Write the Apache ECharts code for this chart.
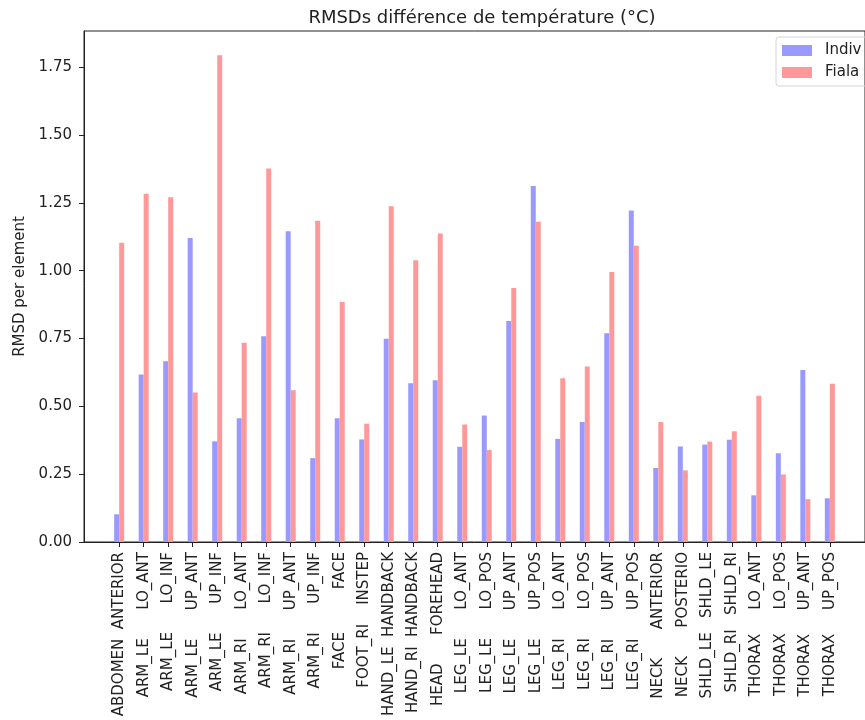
<!DOCTYPE html>
<html>
<head>
<meta charset="utf-8">
<title>RMSDs</title>
<script src="https://cdn.jsdelivr.net/npm/echarts@6/dist/echarts.min.js"></script>
<style>
    html, body { margin: 0; padding: 0; background: #fff; }
    #rmsdChart { width: 865px; height: 720px; }
</style>
</head>
<body>
<div id="rmsdChart"></div>
<script>
// noms des elements (mot1 cadre a gauche, mot2 cadre a droite)
var elementNames = [
    "ABDOMEN  ANTERIOR", "ARM_LE      LO_ANT", "ARM_LE      LO_INF", "ARM_LE      UP_ANT",
    "ARM_LE      UP_INF", "ARM_RI      LO_ANT", "ARM_RI      LO_INF", "ARM_RI      UP_ANT",
    "ARM_RI      UP_INF", "FACE         FACE", "FOOT_RI    INSTEP", "HAND_LE  HANDBACK",
    "HAND_RI  HANDBACK", "HEAD      FOREHEAD", "LEG_LE      LO_ANT", "LEG_LE      LO_POS",
    "LEG_LE      UP_ANT", "LEG_LE      UP_POS", "LEG_RI      LO_ANT", "LEG_RI      LO_POS",
    "LEG_RI      UP_ANT", "LEG_RI      UP_POS", "NECK      ANTERIOR", "NECK      POSTERIO",
    "SHLD_LE   SHLD_LE", "SHLD_RI   SHLD_RI", "THORAX     LO_ANT", "THORAX     LO_POS",
    "THORAX     UP_ANT", "THORAX     UP_POS"
];
var indivValues = [
    0.102, 0.617, 0.666, 1.120, 0.371, 0.456, 0.758, 1.145, 0.309, 0.456,
    0.378, 0.749, 0.585, 0.596, 0.351, 0.466, 0.814, 1.312, 0.380, 0.442,
    0.769, 1.222, 0.273, 0.352, 0.359, 0.377, 0.172, 0.327, 0.634, 0.161
];
var fialaValues = [
    1.103, 1.283, 1.270, 0.551, 1.794, 0.734, 1.376, 0.559, 1.184, 0.884,
    0.436, 1.237, 1.038, 1.137, 0.433, 0.339, 0.936, 1.180, 0.603, 0.647,
    0.995, 1.092, 0.442, 0.264, 0.370, 0.408, 0.539, 0.249, 0.158, 0.583
];
var yTickValues = [0, 0.25, 0.5, 0.75, 1.0, 1.25, 1.5, 1.75];

var chartTitle = "RMSDs différence de température (°C)";
var yAxisName = "RMSD per element";
var fontName = "DejaVu Sans";

function toPoints(values) {
    var points = new Array();
    for (var i = 0; i < values.length; i++) {
        points.push([i, values[i]]);
    }
    return points;
}

var tickPositions = new Array();
for (var i = 0; i < elementNames.length; i++) {
    tickPositions.push(i);
}

var rmsdChart = echarts.init(document.getElementById('rmsdChart'));

var option = {
    animation : false,
    textStyle : {
        fontFamily : fontName
    },
    title : {
        text : chartTitle,
        left : 477,
        top : 4,
        textAlign : 'center',
        textStyle : {
            fontFamily : fontName,
            fontSize : 18,
            fontWeight : 'normal',
            color : '#222'
        }
    },
    legend : {
        data : [ 'Indiv', 'Fiala' ],
        orient : 'vertical',
        left : 776,
        top : 37,
        padding : [ 6, 40, 6, 6 ],
        itemGap : 7,
        itemWidth : 30,
        itemHeight : 11,
        icon : 'rect',
        borderColor : '#d4d4d4',
        borderWidth : 1,
        borderRadius : 3,
        textStyle : {
            fontFamily : fontName,
            fontSize : 15,
            color : '#222',
            padding : [ 0, 0, 0, 8 ]
        }
    },
    grid : {
        left : 84,
        top : 31,
        width : 785,
        height : 511,
        show : true,
        borderColor : '#222',
        borderWidth : 1,
        containLabel : false
    },
    xAxis : {
        type : 'value',
        min : -1.435,
        max : 30.435,
        splitLine : { show : false },
        axisLine : {
            onZero : false,
            lineStyle : { color : '#222', width : 1 }
        },
        axisTick : {
            customValues : tickPositions,
            length : 5,
            lineStyle : { color : '#222' }
        },
        axisLabel : {
            customValues : tickPositions,
            rotate : 90,
            margin : 10,
            fontFamily : fontName,
            fontSize : 15,
            color : '#222',
            formatter : function(v) {
                // espaces insecables pour garder l'alignement
                return elementNames[Math.round(v)].replace(/ /g, '\u00a0');
            }
        }
    },
    yAxis : {
        type : 'value',
        min : 0,
        max : 1.883,
        name : yAxisName,
        nameLocation : 'middle',
        nameGap : 55,
        nameTextStyle : {
            fontFamily : fontName,
            fontSize : 15,
            color : '#222'
        },
        splitLine : { show : false },
        axisLine : {
            show : true,
            onZero : false,
            lineStyle : { color : '#222', width : 1 }
        },
        axisTick : {
            show : true,
            customValues : yTickValues,
            length : 5,
            lineStyle : { color : '#222' }
        },
        axisLabel : {
            customValues : yTickValues,
            margin : 12,
            fontFamily : fontName,
            fontSize : 15,
            color : '#222',
            formatter : function(v) {
                return v.toFixed(2);
            }
        }
    },
    series : [ {
        name : 'Indiv',
        type : 'bar',
        barWidth : 5,
        barGap : '0%',
        itemStyle : { color : '#9999ff' },
        data : toPoints(indivValues)
    }, {
        name : 'Fiala',
        type : 'bar',
        barWidth : 5,
        barGap : '0%',
        itemStyle : { color : '#ff9999' },
        data : toPoints(fialaValues)
    } ]
};

rmsdChart.setOption(option);
</script>
</body>
</html>
